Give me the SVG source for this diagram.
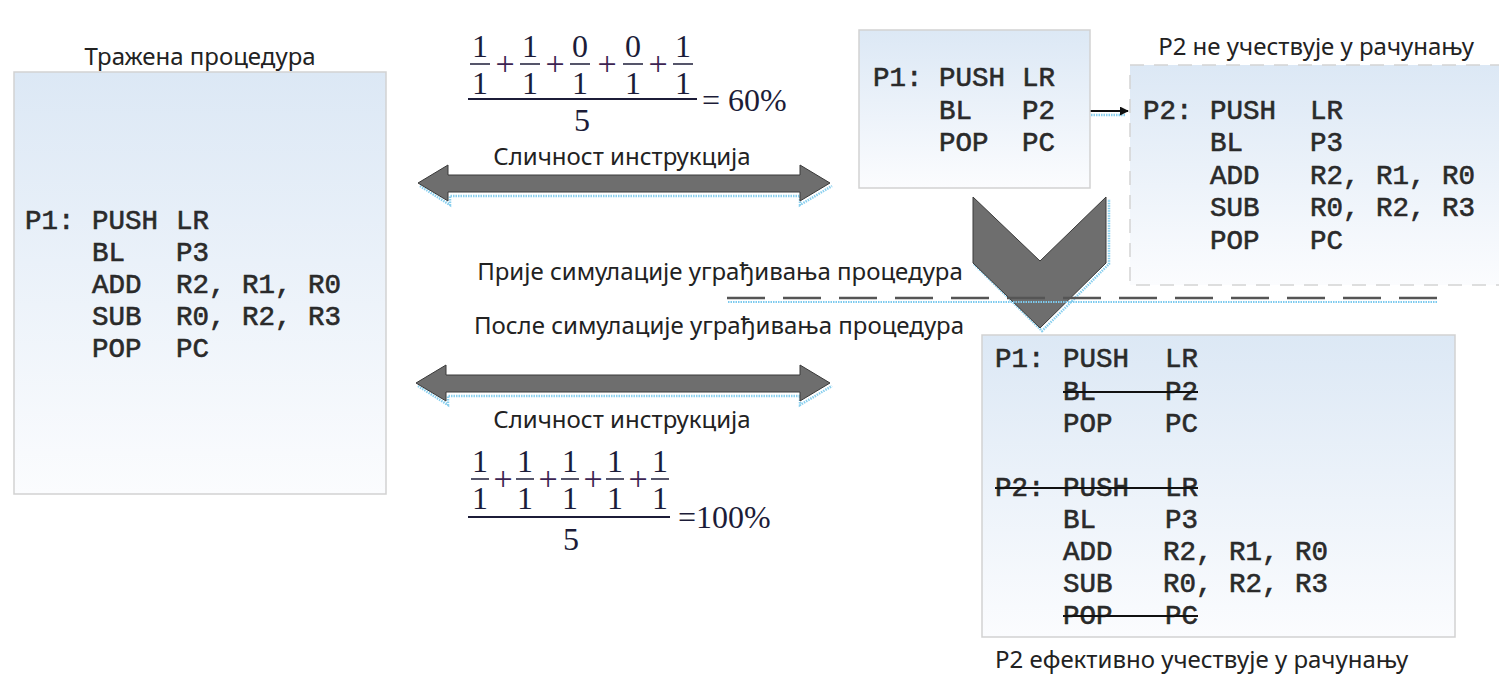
<svg xmlns="http://www.w3.org/2000/svg" width="1499" height="683" viewBox="0 0 1499 683">
  <defs>
    <linearGradient id="boxFill" x1="0" y1="0" x2="0" y2="1">
      <stop offset="0" stop-color="#dce8f5"/>
      <stop offset="1" stop-color="#fbfcfe"/>
    </linearGradient>
    <marker id="arrowHead" viewBox="0 0 10 10" refX="9" refY="5" markerWidth="9" markerHeight="9" markerUnits="userSpaceOnUse" orient="auto">
      <path d="M0,0 L10,5 L0,10 Z" fill="#111"/>
    </marker>
    <style>
      .box { fill: url(#boxFill); stroke: #d2d2d2; stroke-width: 1.5; }
      .dashbox { fill: url(#boxFill); stroke: #d4d4d4; stroke-width: 1.5; stroke-dasharray: 14 10; }
      .code { font-family: "Liberation Mono", "Courier New", monospace; font-size: 27.5px; fill: #2a2a2a; stroke: #2a2a2a; stroke-width: 0.6; }
      .label { font-family: "Noto Sans", "Open Sans", sans-serif; font-size: 24px; fill: #222; }
      .math { font-family: "Liberation Serif", "Times New Roman", serif; font-size: 32px; fill: #1c1c38; }
      .plus { font-family: "Liberation Serif", "Times New Roman", serif; font-size: 34px; fill: #3c2452; }
      .fbar { stroke: #1c1c38; stroke-width: 1.5; }
      .mbar { stroke: #1c1c38; stroke-width: 2; }
      .shape { fill: #6e6e6e; stroke: #3a3a3a; stroke-width: 1; }
      .glow { fill: none; stroke: #6cc3ea; stroke-width: 2.5; stroke-dasharray: 1.5 1; opacity: 0.8; }
      .strike { stroke: #111; stroke-width: 2; }
      .sep { stroke: #555; stroke-width: 2.5; stroke-dasharray: 38 18; }
      .sepglow { stroke: #7ccaee; stroke-width: 2; stroke-dasharray: 1.5 1; }
    </style>
  </defs>

  <rect width="1499" height="683" fill="#ffffff"/>

  <!-- requested procedure -->
  <g id="requested">
    <text class="label" x="200" y="65" text-anchor="middle">Тражена процедура</text>
    <rect class="box" x="14" y="72" width="372" height="422"/>
    <g class="code">
      <text x="25" y="229">P1:</text><text x="92" y="229">PUSH</text><text x="176" y="229">LR</text>
      <text x="92" y="261">BL</text><text x="176" y="261">P3</text>
      <text x="92" y="293">ADD</text><text x="176" y="293">R2, R1, R0</text>
      <text x="92" y="325">SUB</text><text x="176" y="325">R0, R2, R3</text>
      <text x="92" y="357">POP</text><text x="176" y="357">PC</text>
    </g>
  </g>

  <!-- similarity before inlining -->
  <g id="formula-before">
    <text class="math" x="480" y="57" text-anchor="middle">1</text>
    <text class="math" x="530" y="57" text-anchor="middle">1</text>
    <text class="math" x="580" y="57" text-anchor="middle">0</text>
    <text class="math" x="633" y="57" text-anchor="middle">0</text>
    <text class="math" x="683" y="57" text-anchor="middle">1</text>
    <line class="fbar" x1="470" y1="64" x2="490" y2="64"/>
    <line class="fbar" x1="520" y1="64" x2="540" y2="64"/>
    <line class="fbar" x1="570" y1="64" x2="590" y2="64"/>
    <line class="fbar" x1="623" y1="64" x2="643" y2="64"/>
    <line class="fbar" x1="673" y1="64" x2="693" y2="64"/>
    <text class="plus" x="505" y="75" text-anchor="middle">+</text>
    <text class="plus" x="555" y="75" text-anchor="middle">+</text>
    <text class="plus" x="607" y="75" text-anchor="middle">+</text>
    <text class="plus" x="658" y="75" text-anchor="middle">+</text>
    <text class="math" x="480" y="94" text-anchor="middle">1</text>
    <text class="math" x="530" y="94" text-anchor="middle">1</text>
    <text class="math" x="580" y="94" text-anchor="middle">1</text>
    <text class="math" x="633" y="94" text-anchor="middle">1</text>
    <text class="math" x="683" y="94" text-anchor="middle">1</text>
    <line class="mbar" x1="468" y1="99" x2="697" y2="99"/>
    <text class="math" x="582" y="131" text-anchor="middle">5</text>
    <text class="math" x="702" y="111">= 60%</text>
  </g>

  <g id="label-similarity-top">
    <text class="label" x="622" y="165" text-anchor="middle">Сличност инструкција</text>
  </g>

  <!-- connectors -->
  <g id="connectors">
    <!-- double arrow, before -->
    <path class="glow" d="M420,186 L450,205 L450,196 L800,196 L800,205 L832,186"/>
    <path class="shape" d="M418,183 L448,165 L448,175 L800,175 L800,165 L830,183 L800,201 L800,192 L448,192 L448,201 Z"/>
    <!-- double arrow, after -->
    <path class="glow" d="M418,386 L448,405 L448,396 L800,396 L800,405 L832,386"/>
    <path class="shape" d="M416,383 L446,365 L446,375 L800,375 L800,365 L830,383 L800,401 L800,392 L446,392 L446,401 Z"/>
    <!-- call P1 -> P2 -->
    <line class="glow" x1="1091" y1="115" x2="1126" y2="115"/>
    <line x1="1090" y1="111" x2="1128" y2="111" stroke="#111" stroke-width="2" marker-end="url(#arrowHead)"/>
    <!-- chevron -->
    <path class="glow" d="M974,264 L1042,331 L1109,264 L1109,199"/>
    <path class="shape" d="M973,197 L1040,261 L1106,197 L1106,263 L1040,328 L973,263 Z"/>
    <!-- separator -->
    <line class="sepglow" x1="728" y1="302" x2="1437" y2="302"/>
    <line class="sep" x1="727" y1="298" x2="1440" y2="298"/>
  </g>

  <!-- P1 calling P2 -->
  <g id="p1-call">
    <rect class="box" x="859" y="30" width="231" height="158"/>
    <g class="code">
      <text x="873" y="86">P1:</text><text x="939" y="86">PUSH</text><text x="1022" y="86">LR</text>
      <text x="939" y="119">BL</text><text x="1022" y="119">P2</text>
      <text x="939" y="151">POP</text><text x="1022" y="151">PC</text>
    </g>
  </g>

  <!-- P2 not counted -->
  <g id="p2-separate">
    <text class="label" x="1316" y="55" text-anchor="middle">P2 не учествује у рачунању</text>
    <rect class="dashbox" x="1130" y="65" width="380" height="220"/>
    <g class="code">
      <text x="1143" y="119">P2:</text><text x="1210" y="119">PUSH</text><text x="1310" y="119">LR</text>
      <text x="1210" y="151">BL</text><text x="1310" y="151">P3</text>
      <text x="1210" y="184">ADD</text><text x="1310" y="184">R2, R1, R0</text>
      <text x="1210" y="216">SUB</text><text x="1310" y="216">R0, R2, R3</text>
      <text x="1210" y="249">POP</text><text x="1310" y="249">PC</text>
    </g>
  </g>

  <g id="label-before">
    <text class="label" x="720" y="280" text-anchor="middle">Прије симулације уграђивања процедура</text>
  </g>
  <g id="label-after">
    <text class="label" x="719" y="334" text-anchor="middle">После симулације уграђивања процедура</text>
  </g>

  <!-- inlined result -->
  <g id="inlined">
    <rect class="box" x="982" y="335" width="473" height="302"/>
    <g class="code">
      <text x="995" y="367">P1:</text><text x="1063" y="367">PUSH</text><text x="1165" y="367">LR</text>
      <text x="1063" y="400">BL</text><text x="1165" y="400">P2</text>
      <text x="1063" y="432">POP</text><text x="1165" y="432">PC</text>
      <text x="995" y="496">P2:</text><text x="1063" y="496">PUSH</text><text x="1165" y="496">LR</text>
      <text x="1063" y="528">BL</text><text x="1165" y="528">P3</text>
      <text x="1063" y="560">ADD</text><text x="1163" y="560">R2, R1, R0</text>
      <text x="1063" y="592">SUB</text><text x="1163" y="592">R0, R2, R3</text>
      <text x="1063" y="624">POP</text><text x="1165" y="624">PC</text>
    </g>
    <line class="strike" x1="1063" y1="392" x2="1198" y2="392"/>
    <line class="strike" x1="995" y1="488" x2="1198" y2="488"/>
    <line class="strike" x1="1063" y1="616" x2="1198" y2="616"/>
    <text class="label" x="995" y="668">P2 ефективно учествује у рачунању</text>
  </g>

  <g id="label-similarity-bottom">
    <text class="label" x="622" y="428" text-anchor="middle">Сличност инструкција</text>
  </g>

  <!-- similarity after inlining -->
  <g id="formula-after">
    <text class="math" x="480" y="472" text-anchor="middle">1</text>
    <text class="math" x="525" y="472" text-anchor="middle">1</text>
    <text class="math" x="570" y="472" text-anchor="middle">1</text>
    <text class="math" x="615" y="472" text-anchor="middle">1</text>
    <text class="math" x="660" y="472" text-anchor="middle">1</text>
    <line class="fbar" x1="471" y1="479" x2="489" y2="479"/>
    <line class="fbar" x1="516" y1="479" x2="534" y2="479"/>
    <line class="fbar" x1="561" y1="479" x2="579" y2="479"/>
    <line class="fbar" x1="606" y1="479" x2="624" y2="479"/>
    <line class="fbar" x1="651" y1="479" x2="669" y2="479"/>
    <text class="plus" x="503" y="490" text-anchor="middle">+</text>
    <text class="plus" x="548" y="490" text-anchor="middle">+</text>
    <text class="plus" x="593" y="490" text-anchor="middle">+</text>
    <text class="plus" x="638" y="490" text-anchor="middle">+</text>
    <text class="math" x="480" y="509" text-anchor="middle">1</text>
    <text class="math" x="525" y="509" text-anchor="middle">1</text>
    <text class="math" x="570" y="509" text-anchor="middle">1</text>
    <text class="math" x="615" y="509" text-anchor="middle">1</text>
    <text class="math" x="660" y="509" text-anchor="middle">1</text>
    <line class="mbar" x1="468" y1="517" x2="670" y2="517"/>
    <text class="math" x="571" y="550" text-anchor="middle">5</text>
    <text class="math" x="678" y="528">=100%</text>
  </g>
</svg>
